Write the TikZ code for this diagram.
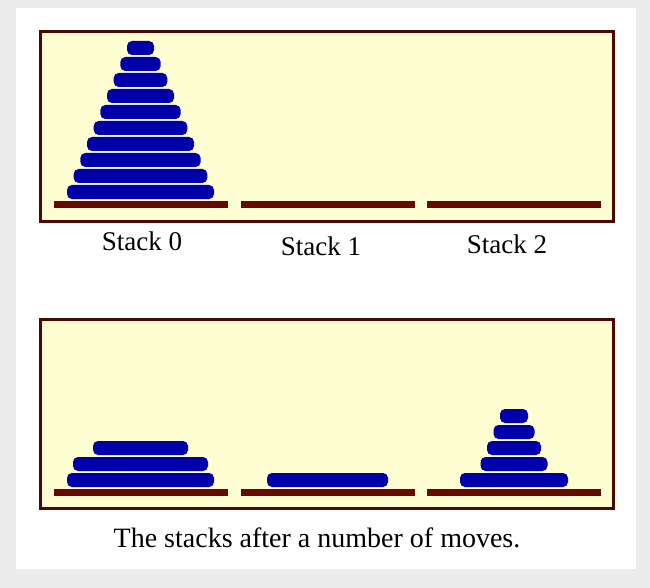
\documentclass[tikz,border=0pt]{standalone}
\usepackage{fontspec}
\setmainfont{Liberation Serif}
\definecolor{pagegray}{HTML}{ECECEC}
\definecolor{panelfill}{HTML}{FFFDD2}
\definecolor{frameedge}{HTML}{4A0A02}
\definecolor{barcol}{HTML}{660A00}
\definecolor{diskcol}{HTML}{0000AA}
\tikzset{
  panel/.style={draw=frameedge, line width=3pt, fill=panelfill},
  basebar/.style={fill=barcol, draw=none, minimum width=174pt, minimum height=7pt, inner sep=0pt, outer sep=0pt},
  disk/.style={fill=diskcol, draw=none, rounded corners=5pt, minimum height=14pt, inner sep=0pt, outer sep=0pt},
  lbl/.style={font=\fontsize{27}{30}\selectfont, anchor=base, inner sep=0pt},
}
\newcommand{\dw}[1]{\the\dimexpr 27pt + #1pt*40/3 - 40pt/3\relax}
\begin{document}
\begin{tikzpicture}[x=1pt,y=-1pt]
\useasboundingbox (0,0) rectangle (650,588);
\fill[pagegray] (0,0) rectangle (650,588);
\fill[white] (16,8) rectangle (636,569);
% top panel
\draw[panel] (40.5,31.5) rectangle (613.5,221.5);
\node[basebar] (b0) at (140.5,204.5) {};
\node[basebar] (b1) at (327.5,204.5) {};
\node[basebar] (b2) at (513.5,204.5) {};
\foreach \k in {10,...,1}{
  \pgfmathsetmacro{\yy}{192-16*(10-\k)}
  \pgfmathsetmacro{\ww}{27+40/3*(\k-1)}
  \node[disk, minimum width=\ww pt] (t\k) at (140.5,\yy) {};
}
\node[lbl] (l0) at (142,250) {Stack 0};
\node[lbl] (l1) at (321,255) {Stack 1};
\node[lbl] (l2) at (507,253) {Stack 2};
% bottom panel
\draw[panel] (40.5,319.5) rectangle (613.5,508.5);
\node[basebar] (c0) at (140.5,492.5) {};
\node[basebar] (c1) at (327.5,492.5) {};
\node[basebar] (c2) at (513.5,492.5) {};
\node[disk, minimum width=147pt] (s0a) at (140.5,480) {};
\node[disk, minimum width=135pt] (s0b) at (140.5,464) {};
\node[disk, minimum width=95pt] (s0c) at (140.5,448) {};
\node[disk, minimum width=121pt] (s1a) at (327.5,480) {};
\node[disk, minimum width=108pt] (s2a) at (514,480) {};
\node[disk, minimum width=67pt] (s2b) at (514,464) {};
\node[disk, minimum width=54pt] (s2c) at (514,448) {};
\node[disk, minimum width=41pt] (s2d) at (514,432) {};
\node[disk, minimum width=28pt] (s2e) at (514,416) {};
\node[lbl, font=\fontsize{28}{32}\selectfont] (cap) at (317,547) {The stacks after a number of moves.};
\end{tikzpicture}
\end{document}
